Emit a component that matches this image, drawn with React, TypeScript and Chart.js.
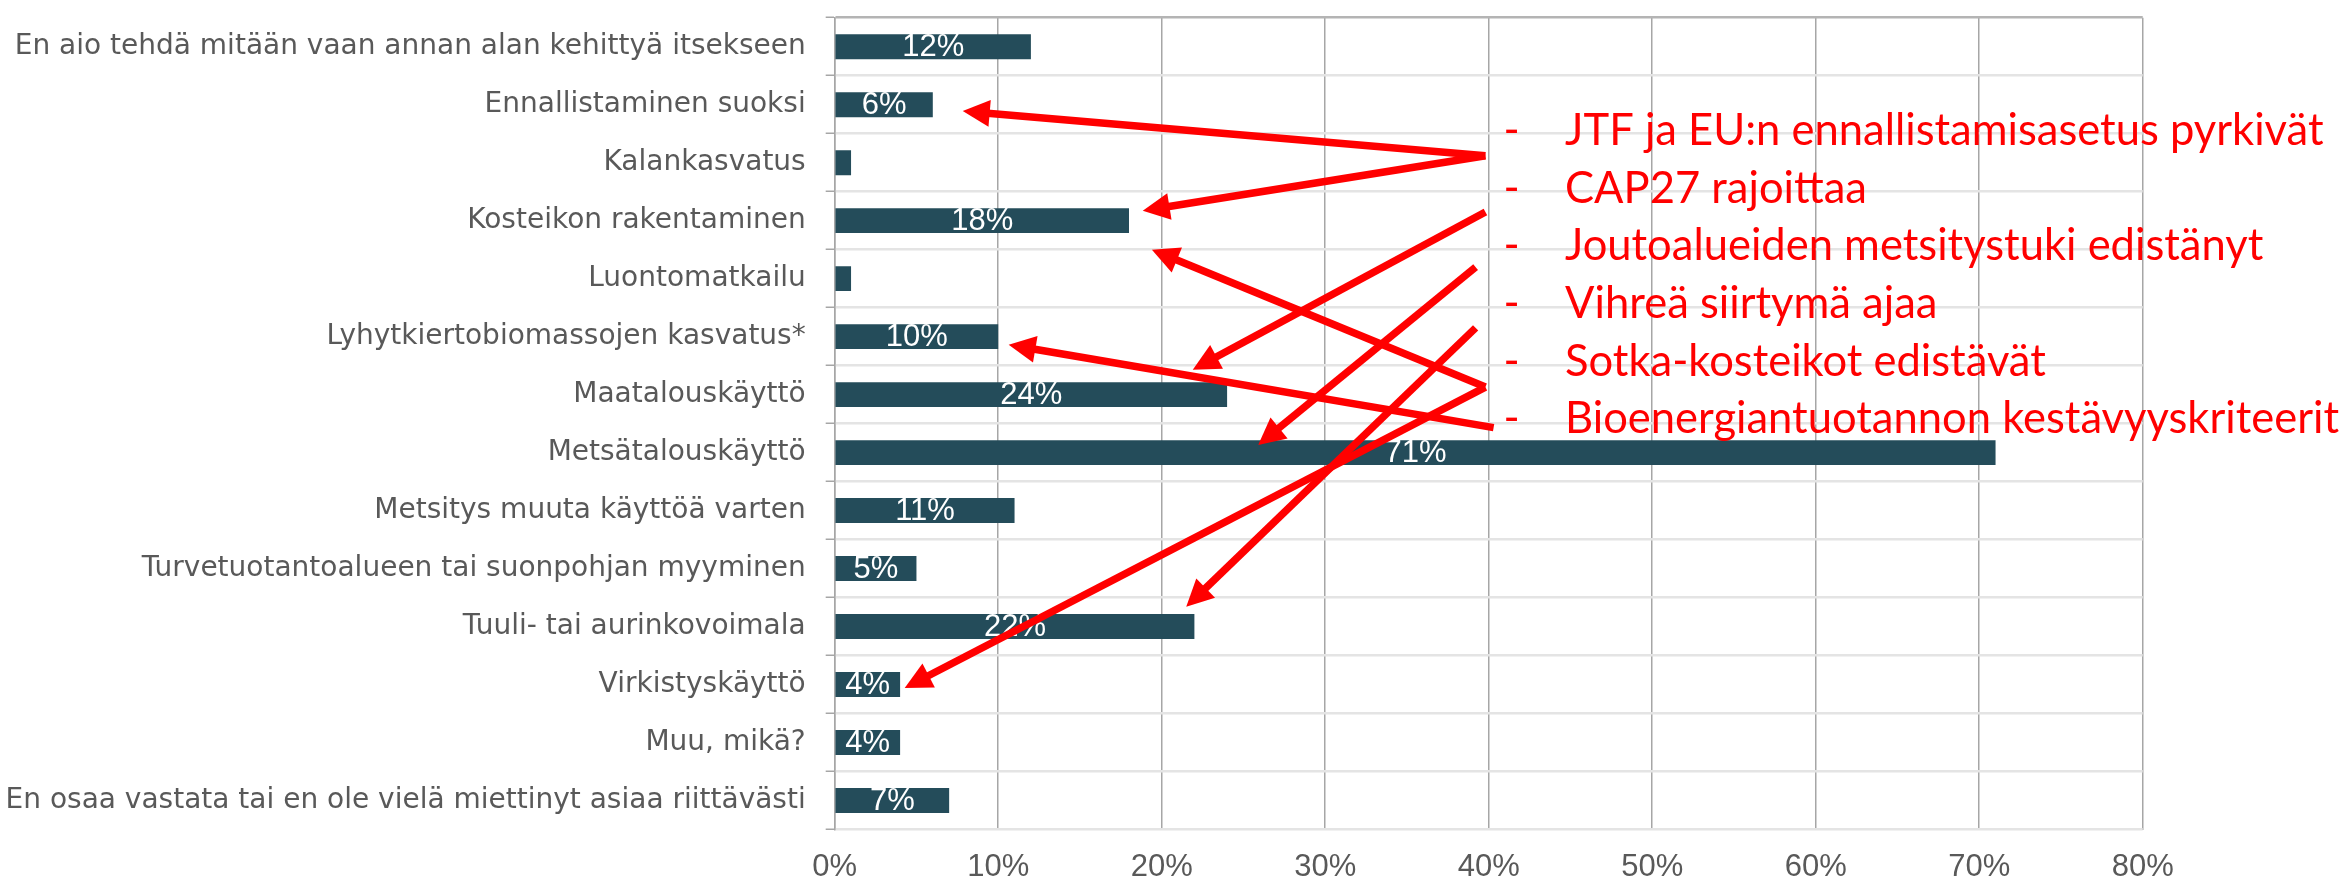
import { useEffect, useRef } from "react";
import { Chart, registerables } from "chart.js";

Chart.register(...registerables);

// ---------- data ----------
const categories = [
  "En aio tehdä mitään vaan annan alan kehittyä itsekseen",
  "Ennallistaminen suoksi",
  "Kalankasvatus",
  "Kosteikon rakentaminen",
  "Luontomatkailu",
  "Lyhytkiertobiomassojen kasvatus*",
  "Maatalouskäyttö",
  "Metsätalouskäyttö",
  "Metsitys muuta käyttöä varten",
  "Turvetuotantoalueen tai suonpohjan myyminen",
  "Tuuli- tai aurinkovoimala",
  "Virkistyskäyttö",
  "Muu, mikä?",
  "En osaa vastata tai en ole vielä miettinyt asiaa riittävästi",
];
const values = [12, 6, 1, 18, 1, 10, 24, 71, 11, 5, 22, 4, 4, 7];
const xTickValues = [0, 10, 20, 30, 40, 50, 60, 70, 80];

const notes = [
  "JTF ja EU:n ennallistamisasetus pyrkivät",
  "CAP27 rajoittaa",
  "Joutoalueiden metsitystuki edistänyt",
  "Vihreä siirtymä ajaa",
  "Sotka-kosteikot edistävät",
  "Bioenergiantuotannon kestävyyskriteerit",
];

// ---------- annotation layout (in axis units: x = %, y = category index) ----------
const ANN = {
  noteDashX: 41.4,
  noteTextX: 44.67,
  noteFirstY: 1.695,
  noteStepY: 0.995,
  noteTextWidthPct: 46.4, // width of first note line in % units
  arrows: [
    { from: [39.8, 1.88], to: [7.83, 1.11] },
    { from: [39.8, 1.88], to: [18.84, 2.83] },
    { from: [39.8, 2.85], to: [21.9, 5.57] },
    { from: [39.2, 3.8], to: [25.9, 6.87] },
    { from: [39.2, 4.85], to: [21.5, 9.66] },
    { from: [39.8, 5.87], to: [19.4, 3.5] },
    { from: [39.8, 5.87], to: [4.28, 11.06] },
    { from: [40.3, 6.57], to: [10.64, 5.14] },
  ],
};

const W = 2351;
const H = 881;
const BAR = "#244c5a";
const GRAY_TEXT = "#595959";
const RED = "#ff0000";

const overlayPlugin = {
  id: "overlay",
  afterDatasetsDraw(chart: any) {
    const ctx = chart.ctx as CanvasRenderingContext2D;
    const xs = chart.scales.x;
    const ys = chart.scales.y;
    const meta = chart.getDatasetMeta(0);

    // value labels
    ctx.save();
    ctx.font = '31px "Liberation Sans", Arial, sans-serif';
    ctx.fillStyle = "#ffffff";
    ctx.textAlign = "center";
    ctx.textBaseline = "middle";
    meta.data.forEach((bar: any, i: number) => {
      if (values[i] < 2) return;
      const p = bar.getProps(["x", "y", "base"], true);
      ctx.fillText(values[i] + "%", (p.x + p.base) / 2, p.y + 1);
    });
    ctx.restore();

    // arrows
    ctx.save();
    ctx.strokeStyle = RED;
    ctx.fillStyle = RED;
    ctx.lineWidth = 7.5;
    ctx.lineCap = "butt";
    const headLen = 27;
    const headHalf = 13.5;
    ANN.arrows.forEach((a) => {
      const x1 = xs.getPixelForValue(a.from[0]);
      const y1 = ys.getPixelForValue(a.from[1]);
      const x2 = xs.getPixelForValue(a.to[0]);
      const y2 = ys.getPixelForValue(a.to[1]);
      const ang = Math.atan2(y2 - y1, x2 - x1);
      const c = Math.cos(ang);
      const s = Math.sin(ang);
      const bx = x2 - headLen * c;
      const by = y2 - headLen * s;
      ctx.beginPath();
      ctx.moveTo(x1, y1);
      ctx.lineTo(bx + c * 2, by + s * 2);
      ctx.stroke();
      ctx.beginPath();
      ctx.moveTo(x2, y2);
      ctx.lineTo(bx + headHalf * s, by - headHalf * c);
      ctx.lineTo(bx - headHalf * s, by + headHalf * c);
      ctx.closePath();
      ctx.fill();
    });
    ctx.restore();

    // notes
    ctx.save();
    const family = 'Lato, "Noto Sans", sans-serif';
    ctx.font = `100px ${family}`;
    const w100 = ctx.measureText(notes[0]).width;
    const targetW = xs.getPixelForValue(ANN.noteTextX + ANN.noteTextWidthPct) - xs.getPixelForValue(ANN.noteTextX);
    const size = (100 * targetW) / w100;
    ctx.font = `${size}px ${family}`;
    ctx.fillStyle = RED;
    ctx.textBaseline = "alphabetic";
    notes.forEach((t, i) => {
      const y = ys.getPixelForValue(ANN.noteFirstY + i * ANN.noteStepY);
      ctx.textAlign = "center";
      ctx.fillText("-", xs.getPixelForValue(ANN.noteDashX), y);
      ctx.textAlign = "left";
      ctx.fillText(t, xs.getPixelForValue(ANN.noteTextX), y);
    });
    ctx.restore();
  },
};

export default function App() {
  const ref = useRef<HTMLCanvasElement>(null);

  useEffect(() => {
    const canvas = ref.current;
    if (!canvas) return;
    const chart = new Chart(canvas, {
      type: "bar",
      data: {
        labels: categories,
        datasets: [
          {
            data: values,
            backgroundColor: BAR,
            borderWidth: 0,
            barPercentage: 0.43,
            categoryPercentage: 1,
          },
        ],
      },
      options: {
        indexAxis: "y",
        responsive: false,
        animation: false,
        devicePixelRatio: 1,
        events: [],
        layout: { padding: { top: 17.7, right: W - 2142.7, left: 0, bottom: 0 } },
        plugins: {
          legend: { display: false },
          tooltip: { enabled: false },
          title: { display: false },
        },
        scales: {
          x: {
            type: "linear",
            position: "bottom",
            min: 0,
            max: 80,
            afterBuildTicks: (s: any) => {
              s.ticks = xTickValues.map((v) => ({ value: v }));
            },
            ticks: {
              autoSkip: false,
              maxRotation: 0,
              padding: 19,
              color: GRAY_TEXT,
              font: { family: '"Liberation Sans", Arial, sans-serif', size: 31 },
              callback: (v: any) => `${v}%`,
            },
            grid: { color: "#a6a6a6", lineWidth: 1.5, drawTicks: false },
            border: { display: false },
            afterFit: (s: any) => {
              s.height = H - 829.5;
              s.paddingLeft = 0;
              s.paddingRight = 0;
            },
          },
          y: {
            type: "category",
            offset: true,
            grid: {
              offset: true,
              color: (c: any) => (c.index === 0 ? "#b4b4b4" : "#e4e4e4"),
              lineWidth: 2.5,
              drawTicks: true,
              tickLength: 9,
              tickColor: "#a6a6a6",
              tickWidth: 1.5,
            },
            border: { display: true, color: "#a6a6a6", width: 1.5 },
            ticks: {
              autoSkip: false,
              padding: 20,
              color: GRAY_TEXT,
              font: { family: '"DejaVu Sans", sans-serif', size: 28 },
            },
            afterFit: (s: any) => {
              s.width = 834.7;
              s.paddingTop = 0;
              s.paddingBottom = 0;
            },
          },
        },
      },
      plugins: [overlayPlugin],
    } as any);
    return () => chart.destroy();
  }, []);

  return (
    <div
      style={{
        position: "fixed",
        left: 0,
        top: 0,
        width: W,
        height: H,
        background: "#ffffff",
      }}
    >
      <canvas ref={ref} width={W} height={H} style={{ width: W, height: H, display: "block" }} />
    </div>
  );
}
